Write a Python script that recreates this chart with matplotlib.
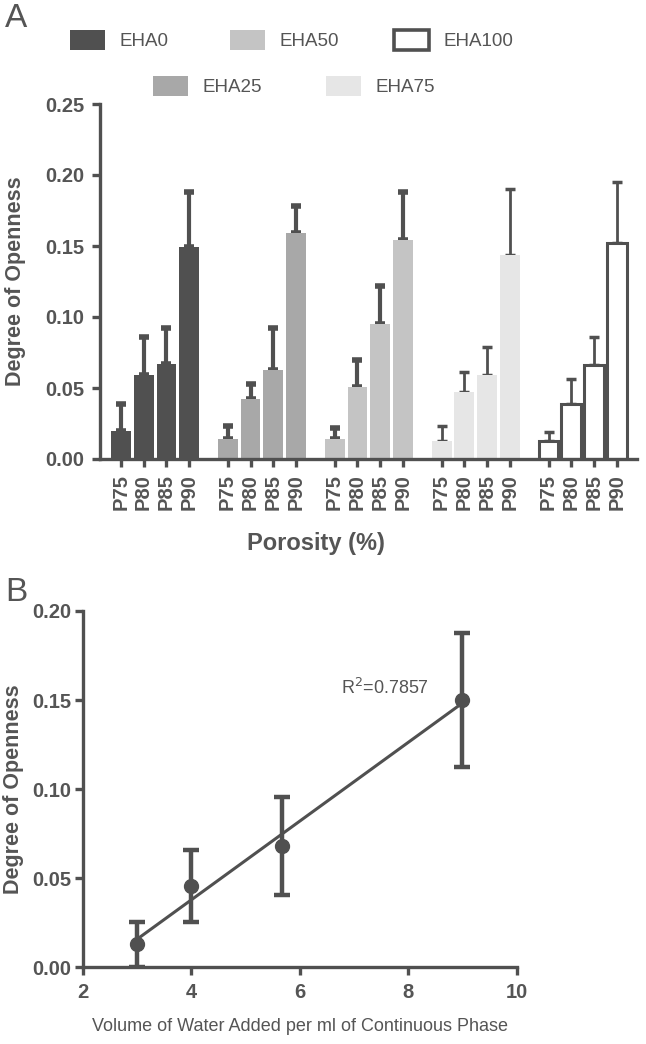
import numpy as np
import matplotlib
matplotlib.use("Agg")
import matplotlib.pyplot as plt
from matplotlib.patches import Patch

plt.rcParams['font.family'] = ['Liberation Sans', 'DejaVu Sans']

# --- Panel A data: degree of openness per EHA content and porosity ---
groups = ['EHA0', 'EHA25', 'EHA50', 'EHA75', 'EHA100']
porosities = ['P75', 'P80', 'P85', 'P90']
means = [
    [0.020, 0.059, 0.067, 0.149],
    [0.014, 0.042, 0.063, 0.159],
    [0.014, 0.051, 0.095, 0.154],
    [0.013, 0.047, 0.059, 0.144],
    [0.013, 0.039, 0.066, 0.152],
]
errors = [
    [0.019, 0.027, 0.025, 0.039],
    [0.009, 0.011, 0.029, 0.019],
    [0.008, 0.019, 0.027, 0.034],
    [0.010, 0.014, 0.020, 0.046],
    [0.006, 0.017, 0.020, 0.043],
]
fills = ['#505050', '#a8a8a8', '#c4c4c4', '#e6e6e6', 'white']

# --- Panel B data: volume of water vs degree of openness ---
water_vol = [3.0, 4.0, 5.67, 9.0]
openness = [0.0129, 0.0456, 0.0681, 0.150]
openness_err = [0.0127, 0.020, 0.0275, 0.0375]

dark = '#505050'
txt = '#555555'
W, H = 646, 1044

fig = plt.figure(figsize=(W / 100, H / 100), dpi=100)

# ---------------- Panel A ----------------
axA = fig.add_axes([100 / W, 1 - 459 / H, 537 / W, 355 / H])
step = 14 / 3
xpos, xlab = [], []
for g, name in enumerate(groups):
    x = g * step + np.arange(len(porosities))
    lw = 2.2 if fills[g] == 'white' else 0
    axA.bar(x, means[g], width=0.87, color=fills[g], edgecolor=dark,
            linewidth=lw, zorder=2)
    thin = g >= 3
    axA.errorbar(x, means[g], yerr=[np.zeros(4), errors[g]], fmt='none',
                 ecolor=dark, elinewidth=2.0 if thin else 3.0,
                 capsize=3.5, capthick=2.5 if thin else 4, zorder=1)
    xpos.extend(x)
    xlab.extend(porosities)

axA.set_xlim(-0.9, 4 * step + 3 + 0.86)
axA.set_ylim(0, 0.25)
yt = np.arange(0, 0.26, 0.05)
axA.set_yticks(yt)
axA.set_yticklabels([f'{v:.2f}' for v in yt])
axA.set_xticks(xpos)
axA.set_xticklabels(xlab, rotation=90)
axA.set_ylabel('Degree of Openness', fontsize=15.5, fontweight='bold', color=txt,
               labelpad=14)
axA.set_xlabel('Porosity (%)', fontsize=17, fontweight='bold', color=txt)
axA.xaxis.set_label_coords(0.402, -0.205)

# legend: one entry each, two staggered rows
leg_pos = {'EHA0': (70, 40), 'EHA50': (230, 40), 'EHA100': (394, 40),
           'EHA25': (153, 86), 'EHA75': (326, 86)}
for i, name in enumerate(groups):
    px, py = leg_pos[name]
    white = fills[i] == 'white'
    h = Patch(facecolor=fills[i], edgecolor=dark if white else fills[i],
              linewidth=2.6 if white else 0)
    leg = fig.legend([h], [name], loc='center left',
                     bbox_to_anchor=(px / W, 1 - py / H), frameon=False,
                     fontsize=13.5, handlelength=1.85, handleheight=1.25,
                     handletextpad=0.8, borderpad=0, borderaxespad=0)
    for t in leg.get_texts():
        t.set_color(txt)

fig.text(0.008, 0.997, 'A', fontsize=24, color=txt, va='top', ha='left')

# ---------------- Panel B ----------------
axB = fig.add_axes([82.7 / W, 1 - 967.3 / H, 434 / W, 356.3 / H])
slope, icpt = np.polyfit(water_vol, openness, 1)
xfit = np.array([min(water_vol), max(water_vol)])
axB.plot(xfit, slope * xfit + icpt, color=dark, lw=2.2, zorder=2)
axB.errorbar(water_vol, openness, yerr=openness_err, fmt='o', color=dark,
             ms=10, elinewidth=3.2, capsize=6, capthick=3.2, zorder=3)
axB.set_xlim(2, 10)
axB.set_ylim(0, 0.20)
axB.set_xticks([2, 4, 6, 8, 10])
ytb = np.arange(0, 0.21, 0.05)
axB.set_yticks(ytb)
axB.set_yticklabels([f'{v:.2f}' for v in ytb])
axB.set_xlabel('Volume of Water Added per ml of Continuous Phase', fontsize=13,
               color=txt, labelpad=12)
axB.text(7.57, 0.157, r'R$^2$=0.7857', fontsize=13, color=txt,
         ha='center', va='center')
fig.text(0.008, 0.447, 'B', fontsize=24, color=txt, va='top', ha='left')

for ax in (axA, axB):
    for s in ('top', 'right'):
        ax.spines[s].set_visible(False)
    for s in ('left', 'bottom'):
        ax.spines[s].set_color(dark)
        ax.spines[s].set_linewidth(2.4)
    ax.tick_params(colors=dark, width=2.4, length=6, labelcolor=txt,
                   labelsize=14.5, pad=5)
    for lbl in ax.get_xticklabels() + ax.get_yticklabels():
        lbl.set_fontweight('bold')

axB.tick_params(axis='y', pad=2)
axB.set_ylabel('Degree of Openness', fontsize=15.5, fontweight='bold', color=txt,
               labelpad=6)

fig.savefig('out.png', dpi=100)
